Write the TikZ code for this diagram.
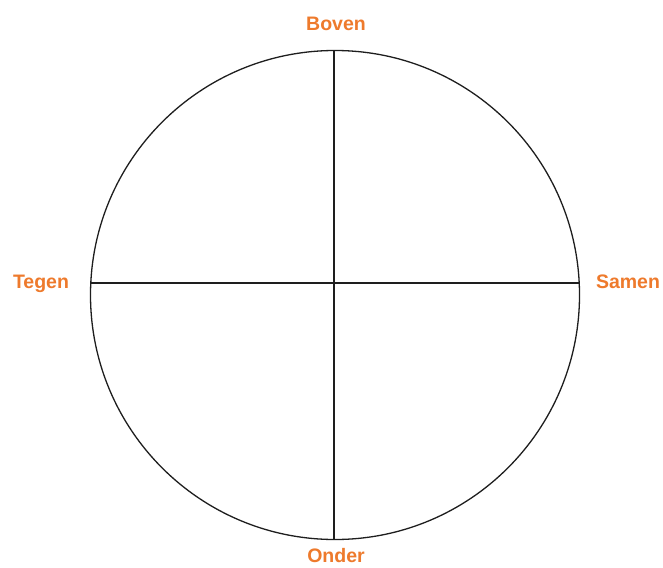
\documentclass[tikz,border=0pt]{standalone}
\usepackage{fontspec}
\setmainfont{Liberation Sans}
\usetikzlibrary{positioning}
\definecolor{LabelOrange}{HTML}{EE7A2C}
\definecolor{AxisInk}{HTML}{1E1E1E}

\begin{document}
\begin{tikzpicture}[x=1pt,y=-1pt,
    axis/.style={AxisInk,line width=1.3pt},
    pole/.style={font=\fontsize{19.5}{22}\selectfont\bfseries,text=LabelOrange,
                 inner sep=0pt,anchor=base}]
    \useasboundingbox[fill=white] (0,0) rectangle (663,567);

    % circle and its two axes
    \draw[axis] (335,295) circle (244.5);
    \coordinate (north) at (334,51);
    \coordinate (south) at (334,539);
    \coordinate (west) at (91,283);
    \coordinate (east) at (579,283);
    \draw[axis] (north) -- (south);
    \draw[axis] (west) -- (east);

    % labels
    \node[pole] (boven) at (336,31) {Boven};
    \node[pole] (onder) at (336,562) {Onder};
    \node[pole] (tegen) at (41,288) {Tegen};
    \node[pole] (samen) at (628,288) {Samen};
\end{tikzpicture}
\end{document}
